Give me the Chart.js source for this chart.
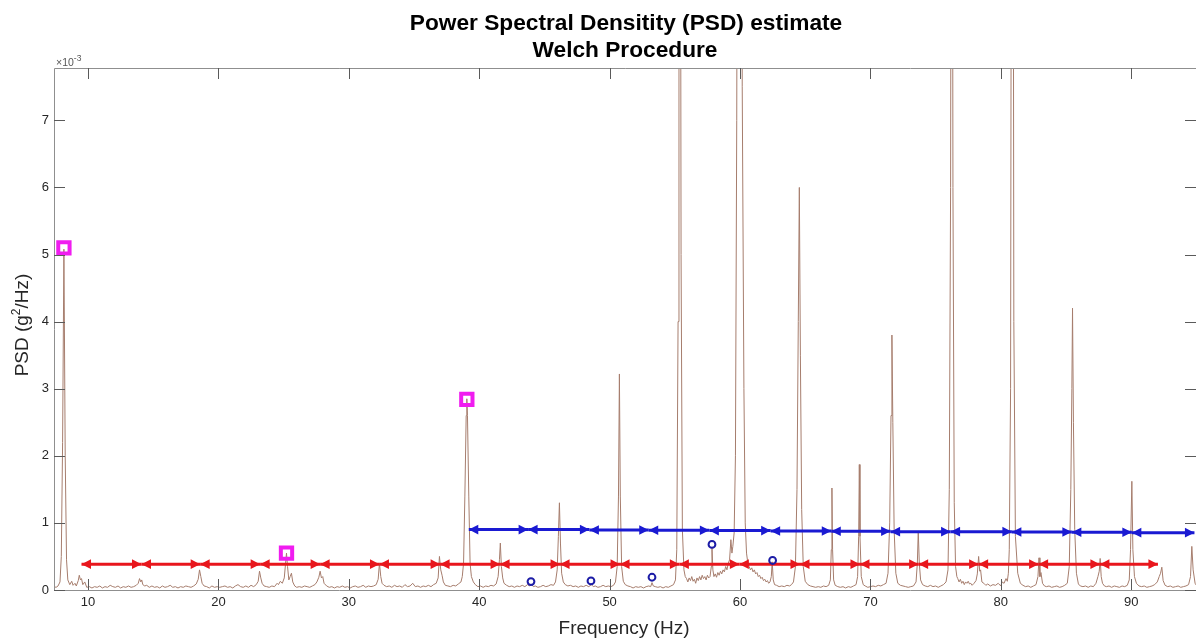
<!DOCTYPE html>
<html lang="en">
<head>
<meta charset="UTF-8">
<title>PSD estimate - Welch Procedure</title>
<style>
  html, body { margin: 0; padding: 0; background: #fff; overflow: hidden; }
  #wrap { width: 1196px; height: 640px; }
  #psdChart { display: block; }
</style>
</head>
<body>
<div id="wrap"><canvas id="psdChart" width="1196" height="640"></canvas></div>
<script src="https://cdn.jsdelivr.net/npm/chart.js"></script>
<script>
// PSD trace, [frequency Hz, PSD x1e-3 g^2/Hz]
const psdA = [[7.39,0.05],[7.55,0.04],[7.7,0.06],[7.85,0.12],[7.95,0.5],[8.05,2.2],[8.15,5.08],[8.25,2.0],[8.35,0.45],[8.45,0.15],[8.6,0.08],[8.75,0.13],[8.85,0.07],[9.0,0.1],[9.1,0.06],[9.25,0.14],[9.33,0.22],[9.42,0.15],[9.5,0.17],[9.6,0.08],[9.75,0.12],[9.9,0.04],[10.1,0.05],[10.3,0.03],[10.5,0.05],[10.7,0.04],[10.9,0.06],[11.1,0.03],[11.3,0.05],[11.5,0.04],[11.7,0.07],[11.9,0.05],[12.1,0.04],[12.3,0.06],[12.5,0.03],[12.7,0.05],[12.9,0.04],[13.1,0.06],[13.3,0.04],[13.5,0.05],[13.7,0.07],[13.85,0.1],[13.95,0.17],[14.05,0.12],[14.12,0.15],[14.2,0.08],[14.35,0.06],[14.5,0.07],[14.7,0.04],[14.9,0.06],[15.1,0.04],[15.3,0.05],[15.5,0.03],[15.7,0.06],[15.9,0.04],[16.1,0.05],[16.3,0.07],[16.5,0.04],[16.7,0.05],[16.9,0.03],[17.1,0.05],[17.3,0.04],[17.5,0.06],[17.7,0.05],[17.9,0.04],[18.1,0.06],[18.3,0.09],[18.45,0.16],[18.55,0.3],[18.65,0.2],[18.75,0.1],[18.9,0.06],[19.1,0.05],[19.3,0.03],[19.5,0.06],[19.7,0.04],[19.9,0.05]];
const psdB = [[20.1,0.04],[20.3,0.05],[20.5,0.06],[20.7,0.04],[20.9,0.05],[21.1,0.03],[21.3,0.06],[21.5,0.08],[21.7,0.05],[21.9,0.04],[22.1,0.06],[22.3,0.04],[22.5,0.07],[22.7,0.05],[22.9,0.08],[23.05,0.13],[23.15,0.28],[23.25,0.18],[23.35,0.1],[23.5,0.06],[23.7,0.05],[23.9,0.04],[24.1,0.06],[24.3,0.05],[24.5,0.1],[24.6,0.08],[24.75,0.13],[24.9,0.1],[25.05,0.18],[25.15,0.4],[25.22,0.55],[25.3,0.35],[25.4,0.15],[25.5,0.2],[25.6,0.25],[25.7,0.12],[25.85,0.06],[26.0,0.04],[26.2,0.05],[26.4,0.04],[26.6,0.06],[26.8,0.05],[27.0,0.04],[27.2,0.06],[27.4,0.08],[27.55,0.12],[27.7,0.19],[27.8,0.28],[27.9,0.18],[28.0,0.2],[28.1,0.1],[28.3,0.06],[28.5,0.04],[28.7,0.05],[28.9,0.03],[29.1,0.05],[29.3,0.04],[29.5,0.06],[29.7,0.04],[29.9,0.05],[30.1,0.03],[30.3,0.05],[30.5,0.06],[30.7,0.04],[30.9,0.05],[31.1,0.07],[31.3,0.04],[31.5,0.06],[31.7,0.05],[31.9,0.06],[32.1,0.08],[32.25,0.16],[32.35,0.4],[32.45,0.2],[32.55,0.1],[32.7,0.07],[32.9,0.05],[33.1,0.06],[33.3,0.04],[33.5,0.07],[33.7,0.05],[33.9,0.06],[34.1,0.04],[34.3,0.08],[34.5,0.05],[34.7,0.06],[34.9,0.1],[35.1,0.05],[35.3,0.06],[35.5,0.04],[35.7,0.06],[35.9,0.05],[36.1,0.07],[36.3,0.05],[36.5,0.08],[36.7,0.1],[36.85,0.18],[36.95,0.5],[37.05,0.3],[37.15,0.22],[37.25,0.12],[37.4,0.07],[37.6,0.06],[37.8,0.05],[38.0,0.07],[38.2,0.06],[38.4,0.09],[38.6,0.12],[38.7,0.2],[38.8,0.4],[38.9,1.4],[39.0,2.6],[39.05,2.85],[39.1,2.6],[39.2,1.4],[39.3,0.4],[39.4,0.2],[39.55,0.12],[39.7,0.08],[39.9,0.05]];
const psdC = [[40.1,0.06],[40.3,0.04],[40.5,0.06],[40.7,0.05],[40.9,0.07],[41.1,0.06],[41.3,0.09],[41.45,0.2],[41.55,0.45],[41.62,0.7],[41.7,0.35],[41.8,0.18],[41.9,0.1],[42.1,0.07],[42.3,0.05],[42.5,0.06],[42.7,0.04],[42.9,0.06],[43.1,0.05],[43.3,0.07],[43.5,0.05],[43.7,0.08],[43.85,0.06],[44.0,0.09],[44.15,0.05],[44.3,0.06],[44.5,0.04],[44.7,0.05],[44.9,0.07],[45.1,0.05],[45.3,0.06],[45.5,0.08],[45.7,0.07],[45.85,0.12],[45.98,0.3],[46.07,0.8],[46.15,1.3],[46.23,0.7],[46.32,0.25],[46.45,0.12],[46.6,0.08],[46.8,0.06],[47.0,0.07],[47.2,0.05],[47.4,0.06],[47.6,0.04],[47.8,0.06],[48.0,0.05],[48.2,0.07],[48.4,0.05],[48.6,0.08],[48.75,0.05],[48.9,0.06],[49.1,0.04],[49.3,0.05],[49.5,0.07],[49.7,0.05],[49.9,0.06],[50.1,0.05],[50.3,0.07],[50.45,0.12],[50.58,0.35],[50.68,1.4],[50.75,3.22],[50.82,1.4],[50.92,0.35],[51.05,0.13],[51.2,0.08],[51.4,0.06],[51.6,0.05],[51.8,0.03],[52.0,0.05],[52.2,0.04],[52.4,0.05],[52.6,0.03],[52.8,0.05],[53.0,0.06],[53.15,0.05],[53.25,0.11],[53.35,0.06],[53.5,0.05],[53.7,0.04],[53.9,0.05],[54.1,0.03],[54.3,0.05],[54.5,0.04],[54.7,0.06],[54.9,0.08],[55.05,0.15],[55.15,0.6],[55.25,4],[55.32,14],[55.4,16],[55.48,5],[55.58,0.9],[55.7,0.3],[55.8,0.2],[55.9,0.17],[56.0,0.12],[56.1,0.18],[56.2,0.14],[56.3,0.2],[56.4,0.13],[56.5,0.16],[56.6,0.1],[56.7,0.18],[56.8,0.14],[56.9,0.2],[57.0,0.15],[57.1,0.22],[57.2,0.17],[57.3,0.2],[57.4,0.15],[57.5,0.22],[57.6,0.18],[57.7,0.2],[57.8,0.35],[57.85,0.63],[57.92,0.3],[58.0,0.2],[58.1,0.24],[58.2,0.19],[58.3,0.26],[58.4,0.22],[58.5,0.28],[58.6,0.24],[58.7,0.3],[58.8,0.27],[58.9,0.35],[59.0,0.3],[59.1,0.4],[59.2,0.45],[59.3,0.75],[59.38,0.55],[59.45,0.65],[59.55,0.85],[59.65,2.0],[59.75,7.0],[59.88,20],[60.0,25]];
const psdD = [[60.1,15],[60.17,7.5],[60.3,3.0],[60.4,1.0],[60.5,0.55],[60.6,0.4],[60.7,0.35],[60.8,0.3],[60.9,0.33],[61.0,0.27],[61.1,0.3],[61.2,0.24],[61.3,0.26],[61.4,0.2],[61.5,0.22],[61.6,0.17],[61.7,0.19],[61.8,0.14],[61.9,0.16],[62.0,0.12],[62.1,0.14],[62.2,0.1],[62.3,0.12],[62.4,0.2],[62.47,0.42],[62.55,0.15],[62.65,0.08],[62.8,0.07],[63.0,0.05],[63.2,0.06],[63.4,0.05],[63.6,0.07],[63.8,0.06],[63.95,0.08],[64.1,0.12],[64.25,0.35],[64.37,1.5],[64.47,4],[64.55,6.0],[64.63,3.5],[64.73,1.2],[64.85,0.35],[65.0,0.13],[65.2,0.08],[65.4,0.06],[65.6,0.05],[65.8,0.04],[66.0,0.05],[66.2,0.04],[66.4,0.06],[66.6,0.05],[66.8,0.07],[66.93,0.15],[67.0,0.6],[67.05,1.52],[67.1,0.6],[67.18,0.15],[67.3,0.07],[67.5,0.05],[67.7,0.04],[67.9,0.05],[68.1,0.03],[68.3,0.05],[68.5,0.04],[68.7,0.06],[68.9,0.08],[69.02,0.2],[69.1,0.8],[69.15,1.87],[69.2,0.8],[69.3,0.2],[69.45,0.08],[69.6,0.06],[69.8,0.04],[70.0,0.05],[70.2,0.06],[70.4,0.05],[70.6,0.07],[70.8,0.06],[71.0,0.08],[71.2,0.1],[71.35,0.25],[71.48,1.0],[71.58,2.6],[71.65,3.8],[71.72,2.5],[71.82,0.9],[71.95,0.25],[72.1,0.1],[72.3,0.07],[72.5,0.06],[72.7,0.05],[72.9,0.04],[73.1,0.05],[73.3,0.06],[73.5,0.12],[73.6,0.4],[73.67,0.88],[73.75,0.4],[73.85,0.15],[74.0,0.08],[74.2,0.06],[74.4,0.05],[74.6,0.07],[74.8,0.05],[75.0,0.06],[75.2,0.04],[75.4,0.06],[75.6,0.08],[75.8,0.12],[75.95,0.3],[76.05,1.5],[76.15,6],[76.24,18],[76.33,6],[76.43,1.3],[76.53,0.35],[76.63,0.2],[76.7,0.17],[76.8,0.12],[76.9,0.16],[77.0,0.1],[77.1,0.13],[77.2,0.08],[77.3,0.12],[77.4,0.1],[77.5,0.13],[77.6,0.09],[77.7,0.1],[77.8,0.07],[77.95,0.1],[78.1,0.14],[78.2,0.24],[78.3,0.5],[78.38,0.28],[78.45,0.3],[78.55,0.12],[78.7,0.1],[78.85,0.07],[79.0,0.09],[79.2,0.06],[79.4,0.08],[79.6,0.07],[79.8,0.1],[80.0,0.06]];
const psdE = [[80.1,0.12],[80.25,0.1],[80.4,0.17],[80.5,0.13],[80.58,0.25],[80.65,0.6],[80.75,3],[80.83,14],[80.92,16],[81.0,4],[81.12,0.8],[81.3,0.25],[81.5,0.1],[81.7,0.07],[81.9,0.05],[82.1,0.06],[82.3,0.04],[82.5,0.06],[82.7,0.08],[82.85,0.2],[82.93,0.48],[83.0,0.2],[83.08,0.26],[83.2,0.1],[83.35,0.06],[83.5,0.05],[83.7,0.06],[83.9,0.04],[84.1,0.05],[84.3,0.06],[84.5,0.04],[84.7,0.05],[84.9,0.07],[85.1,0.1],[85.25,0.35],[85.37,1.5],[85.45,3.0],[85.5,4.2],[85.57,2.5],[85.67,0.9],[85.8,0.25],[85.95,0.09],[86.1,0.06],[86.3,0.05],[86.5,0.06],[86.7,0.04],[86.9,0.06],[87.1,0.05],[87.3,0.1],[87.45,0.2],[87.55,0.28],[87.62,0.47],[87.7,0.2],[87.8,0.1],[87.95,0.06],[88.1,0.05],[88.3,0.06],[88.5,0.04],[88.7,0.06],[88.9,0.05],[89.1,0.04],[89.3,0.06],[89.5,0.05],[89.7,0.07],[89.85,0.15],[89.95,0.6],[90.05,1.62],[90.13,0.6],[90.25,0.2],[90.4,0.1],[90.6,0.06],[90.8,0.05],[91.0,0.06],[91.2,0.04],[91.4,0.05],[91.6,0.06],[91.8,0.08],[92.0,0.12],[92.15,0.2],[92.25,0.25],[92.35,0.34],[92.45,0.14],[92.6,0.07],[92.8,0.05],[93.0,0.06],[93.2,0.04],[93.4,0.05],[93.6,0.06],[93.8,0.04],[94.0,0.05],[94.2,0.06],[94.4,0.08],[94.55,0.2],[94.65,0.65],[94.75,0.3],[94.9,0.1],[95.0,0.07]];

// marked peaks (magenta squares) and small peaks (blue circles)
const squareFreq = [8.15, 25.22, 39.05];
const squareVal = [5.1, 0.55, 2.84];
const circleFreq = [43.97, 48.57, 53.25, 57.85, 62.5];
const circleVal = [0.125, 0.135, 0.19, 0.68, 0.44];

// harmonic spacing arrows: boundaries in Hz, height in PSD units
const redBounds = [9.5, 14.1, 18.6, 23.2, 27.8, 32.35, 37.0, 41.6, 46.2, 50.8, 55.35, 59.95, 64.6, 69.2, 73.7, 78.3, 82.9, 87.6, 92.05];
const redLevel = 0.385;
const blueBounds = [39.2, 43.75, 48.45, 53.0, 57.65, 62.35, 67.0, 71.55, 76.15, 80.85, 85.45, 90.05, 94.85];
const blueLevels = [0.9, 0.9, 0.895, 0.89, 0.885, 0.88, 0.875, 0.87, 0.87, 0.865, 0.86, 0.855];

const xTicks = [10, 20, 30, 40, 50, 60, 70, 80, 90];
const yTicks = [0, 1, 2, 3, 4, 5, 6, 7];

const FONT = 'Arial, "Liberation Sans", sans-serif';
Chart.defaults.font.family = FONT;

const trace = psdA.concat(psdB, psdC, psdD, psdE).map(([f, v]) => ({x: f, y: v}));

const redArrows = redBounds.slice(0, -1).map((b, i) => ({
    arrow: true,
    data: [{x: b, y: redLevel}, {x: redBounds[i + 1], y: redLevel}],
    borderColor: '#e8161c', borderWidth: 3, pointRadius: 0, order: 5
}));
const blueArrows = blueBounds.slice(0, -1).map((b, i) => ({
    arrow: true,
    data: [{x: b, y: blueLevels[i]}, {x: blueBounds[i + 1], y: blueLevels[i]}],
    borderColor: '#1a1ad2', borderWidth: 3, pointRadius: 0, order: 5
}));

// filled heads at both ends of each arrow dataset
const arrowHeads = {
    id: 'arrowHeads',
    afterDatasetDraw(chart, args) {
        const ds = chart.data.datasets[args.index];
        if (!ds.arrow) return;
        const [p0, p1] = args.meta.data;
        const ctx = chart.ctx, L = 9.5, W = 4.8;
        ctx.save();
        ctx.fillStyle = ds.borderColor;
        ctx.beginPath();
        ctx.moveTo(p0.x, p0.y); ctx.lineTo(p0.x + L, p0.y - W); ctx.lineTo(p0.x + L, p0.y + W); ctx.closePath();
        ctx.moveTo(p1.x, p1.y); ctx.lineTo(p1.x - L, p1.y - W); ctx.lineTo(p1.x - L, p1.y + W); ctx.closePath();
        ctx.fill();
        ctx.restore();
    }
};

// MATLAB style box, inward ticks, titles
const axesFrame = {
    id: 'axesFrame',
    afterDraw(chart) {
        const {ctx, chartArea: a, scales: {x, y}} = chart;
        ctx.save();
        ctx.strokeStyle = '#8f8f8f';
        ctx.lineWidth = 1;
        ctx.beginPath();
        ctx.moveTo(a.left + 0.5, a.bottom + 0.5);
        ctx.lineTo(a.left + 0.5, a.top + 0.5);
        ctx.lineTo(a.right, a.top + 0.5);
        ctx.moveTo(a.left, a.bottom + 0.5);
        ctx.lineTo(a.right, a.bottom + 0.5);
        ctx.stroke();

        ctx.strokeStyle = '#5a5a5a';
        ctx.beginPath();
        xTicks.forEach(t => {
            const px = Math.round(x.getPixelForValue(t)) + 0.5;
            ctx.moveTo(px, a.bottom); ctx.lineTo(px, a.bottom - 11);
            ctx.moveTo(px, a.top); ctx.lineTo(px, a.top + 11);
        });
        yTicks.forEach(t => {
            const py = Math.round(y.getPixelForValue(t)) + 0.5;
            ctx.moveTo(a.left, py); ctx.lineTo(a.left + 11, py);
            ctx.moveTo(a.right, py); ctx.lineTo(a.right - 11, py);
        });
        ctx.stroke();

        const cx = (a.left + a.right) / 2;
        ctx.fillStyle = '#000';
        ctx.textAlign = 'center';
        ctx.textBaseline = 'alphabetic';
        ctx.font = 'bold 22.7px ' + FONT;
        ctx.fillText('Power Spectral Densitity (PSD) estimate', cx + 1, 30);
        ctx.fillText('Welch Procedure', cx, 57);

        ctx.fillStyle = '#262626';
        ctx.font = '19px ' + FONT;
        ctx.fillText('Frequency (Hz)', cx - 1, 634);

        // y label with superscript
        ctx.save();
        ctx.translate(28, 325);
        ctx.rotate(-Math.PI / 2);
        const p1 = 'PSD (g', p2 = '2', p3 = '/Hz)';
        ctx.font = '19px ' + FONT;
        const w1 = ctx.measureText(p1).width, w3 = ctx.measureText(p3).width;
        ctx.font = '12px ' + FONT;
        const w2 = ctx.measureText(p2).width;
        let sx = -(w1 + w2 + w3) / 2;
        ctx.textAlign = 'left';
        ctx.font = '19px ' + FONT;
        ctx.fillText(p1, sx, 0);
        ctx.font = '12px ' + FONT;
        ctx.fillText(p2, sx + w1, -8);
        ctx.font = '19px ' + FONT;
        ctx.fillText(p3, sx + w1 + w2, 0);
        ctx.restore();

        // exponent
        ctx.textAlign = 'left';
        ctx.fillStyle = '#555';
        ctx.font = '10.5px ' + FONT;
        ctx.fillText('\u00d710', a.left + 2, 66);
        const wx = ctx.measureText('\u00d710').width;
        ctx.font = '8.5px ' + FONT;
        ctx.fillText('-3', a.left + 2 + wx, 61);
        ctx.restore();
    }
};

new Chart(document.getElementById('psdChart'), {
    type: 'line',
    data: {
        datasets: [
            {data: trace, borderColor: '#a67d6d', borderWidth: 1, pointRadius: 0, tension: 0, order: 10},
            ...redArrows,
            ...blueArrows,
            {data: squareFreq.map((f, i) => ({x: f, y: squareVal[i]})), showLine: false,
             pointStyle: 'rect', pointRadius: 8, borderWidth: 4, borderColor: '#f01cf0',
             backgroundColor: 'rgba(0,0,0,0)', order: 1},
            {data: circleFreq.map((f, i) => ({x: f, y: circleVal[i]})), showLine: false,
             pointStyle: 'circle', pointRadius: 3.4, borderWidth: 2, borderColor: '#1c1ca6',
             backgroundColor: 'rgba(0,0,0,0)', order: 1}
        ]
    },
    options: {
        responsive: false,
        animation: false,
        layout: {autoPadding: false, padding: {top: 68, right: 0, left: 0, bottom: 0}},
        plugins: {legend: {display: false}, tooltip: {enabled: false}},
        scales: {
            x: {
                type: 'linear', min: 7.39, max: 94.97,
                afterFit: s => { s.height = 50; s.paddingLeft = 0; s.paddingRight = 0; },
                afterBuildTicks: s => { s.ticks = xTicks.map(v => ({value: v})); },
                grid: {display: false, drawTicks: false},
                border: {display: false},
                ticks: {color: '#262626', font: {size: 13}, padding: 5, maxRotation: 0, autoSkip: false}
            },
            y: {
                type: 'linear', min: 0, max: 7.78,
                afterFit: s => { s.width = 54; s.paddingTop = 0; s.paddingBottom = 0; },
                afterBuildTicks: s => { s.ticks = yTicks.map(v => ({value: v})); },
                grid: {display: false, drawTicks: false},
                border: {display: false},
                ticks: {color: '#262626', font: {size: 13}, padding: 5}
            }
        }
    },
    plugins: [arrowHeads, axesFrame]
});
</script>
</body>
</html>
